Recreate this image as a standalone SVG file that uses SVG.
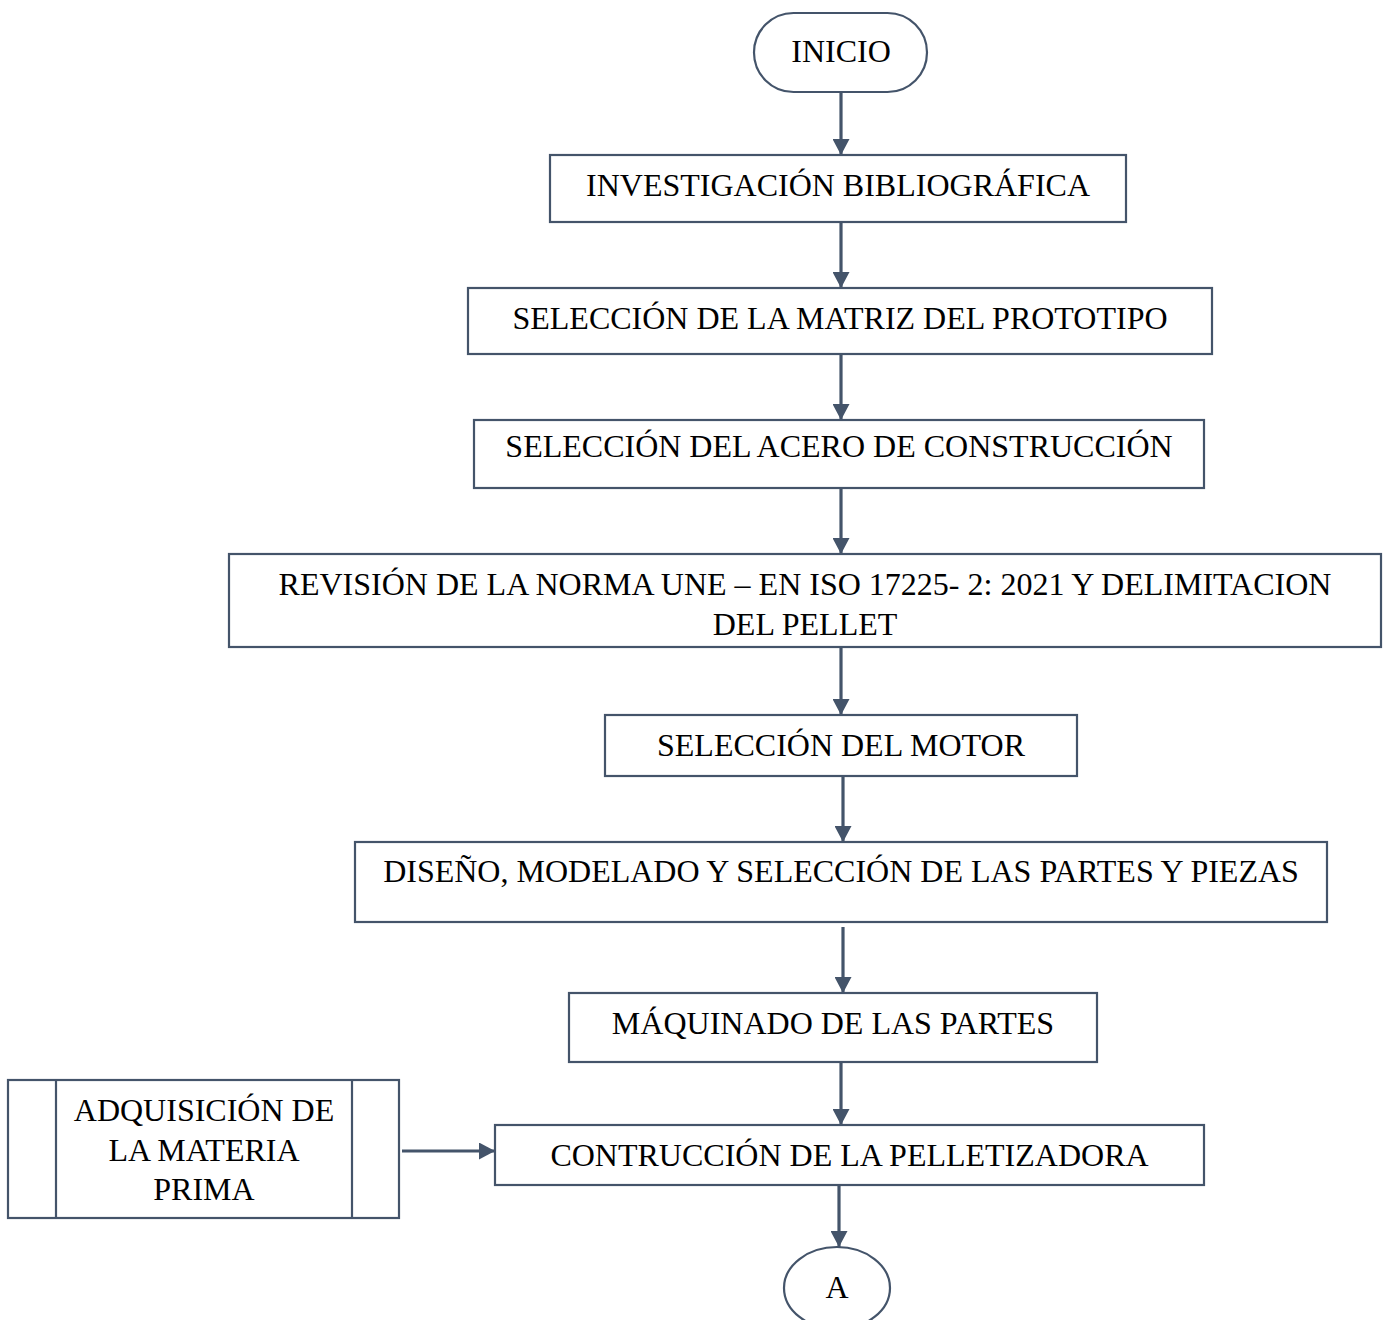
<svg xmlns="http://www.w3.org/2000/svg" width="1388" height="1320" viewBox="0 0 1388 1320">
<style>
.box{fill:#fff;stroke:#44546A;stroke-width:2.2}
.conn{stroke:#44546A;stroke-width:3.2;fill:none}
text{font-family:"Liberation Serif","Times New Roman",serif;font-size:32px;fill:#000;text-anchor:middle}
</style>
<defs>
<marker id="ah" markerUnits="userSpaceOnUse" markerWidth="17" markerHeight="17" viewBox="0 0 16 17" refX="16" refY="8.5" orient="auto">
<path d="M0,0 L16,8.5 L0,17 Z" fill="#44546A"/>
</marker>
</defs>
<rect width="1388" height="1320" fill="#fff"/>
<g id="connectors">
<line class="conn" x1="841" y1="92" x2="841" y2="155" marker-end="url(#ah)"/>
<line class="conn" x1="841" y1="222" x2="841" y2="288" marker-end="url(#ah)"/>
<line class="conn" x1="841" y1="355" x2="841" y2="420" marker-end="url(#ah)"/>
<line class="conn" x1="841" y1="488" x2="841" y2="554" marker-end="url(#ah)"/>
<line class="conn" x1="841" y1="647" x2="841" y2="715" marker-end="url(#ah)"/>
<line class="conn" x1="843" y1="776" x2="843" y2="842" marker-end="url(#ah)"/>
<line class="conn" x1="843" y1="927" x2="843" y2="993" marker-end="url(#ah)"/>
<line class="conn" x1="841" y1="1062" x2="841" y2="1125" marker-end="url(#ah)"/>
<line class="conn" x1="839" y1="1185" x2="839" y2="1247" marker-end="url(#ah)"/>
<line class="conn" x1="402" y1="1151" x2="495" y2="1151" marker-end="url(#ah)"/>
</g>
<g id="inicio">
<rect class="box" x="754" y="13" width="173" height="79" rx="39.5" ry="39.5"/>
<text x="841" y="62">INICIO</text>
</g>
<g id="n1">
<rect class="box" x="550" y="155" width="576" height="67"/>
<text x="838" y="196">INVESTIGACIÓN BIBLIOGRÁFICA</text>
</g>
<g id="n2">
<rect class="box" x="468" y="288" width="744" height="66"/>
<text x="840" y="329">SELECCIÓN DE LA MATRIZ DEL PROTOTIPO</text>
</g>
<g id="n3">
<rect class="box" x="474" y="420" width="730" height="68"/>
<text x="839" y="457">SELECCIÓN DEL ACERO DE CONSTRUCCIÓN</text>
</g>
<g id="n4">
<rect class="box" x="229" y="554" width="1152" height="93"/>
<text x="805" y="595">REVISIÓN DE LA NORMA UNE – EN ISO 17225- 2: 2021 Y DELIMITACION</text>
<text x="805" y="635">DEL PELLET</text>
</g>
<g id="n5">
<rect class="box" x="605" y="715" width="472" height="61"/>
<text x="841" y="756">SELECCIÓN DEL MOTOR</text>
</g>
<g id="n6">
<rect class="box" x="355" y="842" width="972" height="80"/>
<text x="841" y="882">DISEÑO, MODELADO Y SELECCIÓN DE LAS PARTES Y PIEZAS</text>
</g>
<g id="n7">
<rect class="box" x="569" y="993" width="528" height="69"/>
<text x="833" y="1034">MÁQUINADO DE LAS PARTES</text>
</g>
<g id="n8">
<rect class="box" x="495" y="1125" width="709" height="60"/>
<text x="849.5" y="1166">CONTRUCCIÓN DE LA PELLETIZADORA</text>
</g>
<g id="materia">
<rect class="box" x="8" y="1080" width="391" height="138"/>
<line class="box" x1="56" y1="1080" x2="56" y2="1218"/>
<line class="box" x1="352" y1="1080" x2="352" y2="1218"/>
<text x="204" y="1121">ADQUISICIÓN DE</text>
<text x="204" y="1161">LA MATERIA</text>
<text x="204" y="1200">PRIMA</text>
</g>
<g id="a">
<ellipse class="box" cx="837" cy="1288" rx="53" ry="41"/>
<text x="837" y="1298">A</text>
</g>
</svg>
